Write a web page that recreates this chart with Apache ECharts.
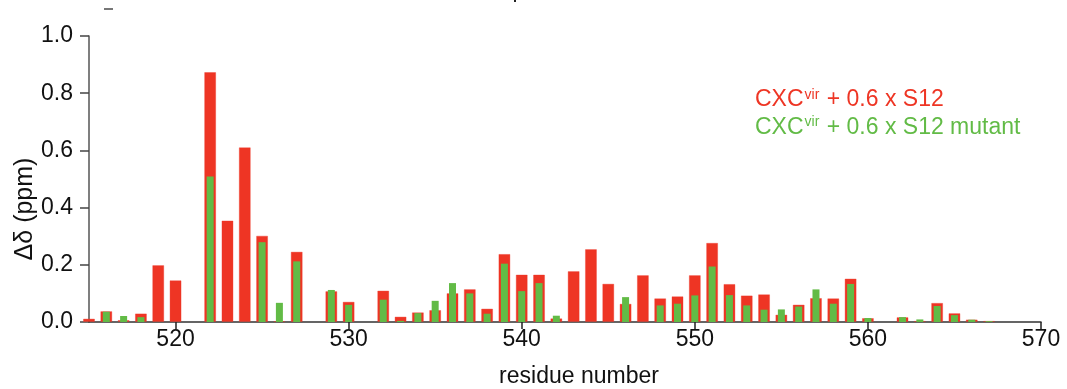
<!DOCTYPE html>
<html>
<head>
<meta charset="utf-8">
<script src="https://cdn.jsdelivr.net/npm/echarts@6/dist/echarts.min.js"></script>
<style>
html,body{margin:0;padding:0;background:#fff;}
#c{width:1067px;height:389px;}
</style>
</head>
<body>
<div id="c"></div>
<script>
// residue numbers
const residues = [515,516,517,518,519,520,522,523,524,525,526,527,529,530,532,533,534,535,536,537,538,539,540,541,542,543,544,545,546,547,548,549,550,551,552,553,554,555,556,557,558,559,560,562,563,564,565,566,567];
// CXCvir + 0.6 x S12 (red)
const wildType = [0.012,0.038,0.007,0.030,0.199,0.146,0.874,0.355,0.611,0.302,0.003,0.246,0.108,0.071,0.110,0.019,0.034,0.042,0.101,0.115,0.047,0.238,0.166,0.166,0.013,0.178,0.255,0.134,0.064,0.164,0.083,0.090,0.164,0.277,0.133,0.093,0.097,0.026,0.061,0.084,0.083,0.152,0.014,0.017,0.004,0.067,0.031,0.009,0.004];
// CXCvir + 0.6 x S12 mutant (green)
const mutant = [null,0.036,0.021,0.017,null,null,0.509,null,null,0.279,0.067,0.212,0.112,0.060,0.078,0.004,0.031,0.074,0.136,0.100,0.029,0.204,0.108,0.136,0.022,null,null,null,0.087,null,0.058,0.064,0.093,0.194,0.094,0.058,0.043,0.044,0.054,0.114,0.064,0.133,0.014,0.017,0.009,0.056,0.024,0.008,0.003];
const xTicks = [520,530,540,550,560,570];
const yTicks = [0,0.2,0.4,0.6,0.8,1.0];
const seriesNames = ['CXCvir + 0.6 x S12','CXCvir + 0.6 x S12 mutant'];

const RED = '#EE3524', GREEN = '#62BB46';
const FONT = '"Liberation Sans", Arial, Helvetica, sans-serif';
const FS = 23;

const chart = echarts.init(document.getElementById('c'), null, {renderer:'canvas'});
const xBase = {
  type:'value', min:515, max:570, gridIndex:0,
  axisLine:{show:true, lineStyle:{color:'#333', width:1.5}},
  splitLine:{show:false}
};
chart.setOption({
  animation:false,
  backgroundColor:'#fff',
  grid:{left:89, right:26, top:36, bottom:67, containLabel:false, outerBoundsMode:'none'},
  xAxis:[
    Object.assign({}, xBase, {
      axisTick:{show:true, length:7, lineStyle:{color:'#222', width:1.5}, customValues: xTicks},
      axisLabel:{show:true, margin:6, fontSize:FS, color:'#111', fontFamily:FONT, customValues: xTicks},
      name:'residue number', nameLocation:'middle', nameGap:43,
      nameTextStyle:{fontSize:FS, color:'#111', fontFamily:FONT, padding:[0,0,0,28]}
    }),
    Object.assign({}, xBase, {show:false})
  ],
  yAxis:{
    type:'value', min:0, max:1, interval:0.2,
    axisLine:{show:true, lineStyle:{color:'#555', width:1.5}},
    axisTick:{show:true, length:9, lineStyle:{color:'#444', width:1.5}},
    axisLabel:{margin:16, fontSize:FS, color:'#111', fontFamily:FONT, formatter:v=>v.toFixed(1), customValues:yTicks},
    splitLine:{show:false}
  },
  legend:{
    orient:'vertical', left:745, top:83, itemGap:4, icon:'none', itemWidth:0, itemHeight:0,
    selectedMode:false,
    data:[
      {name:seriesNames[0], textStyle:{color:RED}},
      {name:seriesNames[1], textStyle:{color:GREEN}}
    ],
    formatter: n => n.replace('CXCvir', '{a|CXC}{s|vir}'),
    textStyle:{fontSize:FS, fontFamily:FONT, rich:{
      a:{fontSize:FS, fontFamily:FONT},
      s:{fontSize:14, fontFamily:FONT, verticalAlign:'top', padding:[0,1,10,1]}
    }}
  },
  graphic:[
    {type:'text', x:25, y:209, rotation:Math.PI/2, style:{text:'Δδ (ppm)', fill:'#111', font:'25px ' + FONT, align:'center', verticalAlign:'middle'}},
    {type:'rect', shape:{x:104, y:8, width:9, height:2}, style:{fill:'#777'}},
    {type:'rect', shape:{x:514, y:0, width:2, height:2}, style:{fill:'#222'}}
  ],
  series:[
    {
      name:seriesNames[0], type:'bar', xAxisIndex:0, barWidth:12, clip:false,
      itemStyle:{color:RED, borderColor:'rgba(238,53,36,0.35)', borderWidth:1},
      data: residues.map((r,i)=>[r, wildType[i]])
    },
    {
      name:seriesNames[1], type:'bar', xAxisIndex:1, barWidth:7, clip:false, z:3,
      itemStyle:{color:GREEN},
      data: residues.map((r,i)=>mutant[i]==null?null:[r, mutant[i]]).filter(d=>d)
    }
  ]
});
</script>
</body>
</html>
